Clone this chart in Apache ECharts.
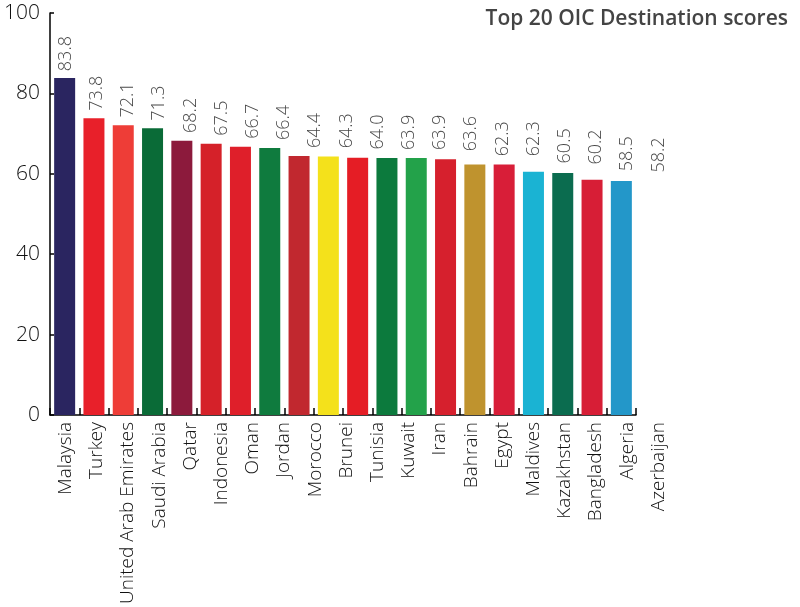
<!DOCTYPE html>
<html>
<head>
<meta charset="utf-8">
<script src="https://cdn.jsdelivr.net/npm/echarts@6/dist/echarts.min.js"></script>
<style>html,body{margin:0;padding:0;background:#fff}#c{width:800px;height:607px}</style>
</head>
<body>
<div id="c"></div>
<script>
const categories = ["Malaysia","Turkey","United Arab Emirates","Saudi Arabia","Qatar","Indonesia","Oman","Jordan","Morocco","Brunei","Tunisia","Kuwait","Iran","Bahrain","Egypt","Maldives","Kazakhstan","Bangladesh","Algeria","Azerbaijan"];
const scores = [83.8,73.8,72.1,71.3,68.2,67.5,66.7,66.4,64.4,64.3,64.0,63.9,63.9,63.6,62.3,62.3,60.5,60.2,58.5,58.2];
const barColors = ["#2a2560","#e8202a","#ee3d37","#0a6b37","#8c1a3c","#d52129","#df1f2a","#0f7b3e","#c1282f","#f4e11b","#e51d25","#0c7a3d","#23a24a","#d6202d","#bf932e","#d81e38","#1ab3d3","#0b6c4f","#d71e36","#2397c9"];
const yTicks = [0,20,40,60,80,100];

const font = "'Open Sans', sans-serif";
const chart = echarts.init(document.getElementById('c'), null, {renderer:'canvas'});
chart.setOption({
  animation:false,
  backgroundColor:'#fff',
  title:{text:'Top 20 OIC Destination scores', right:7, top:4,
    textStyle:{fontFamily:font, fontSize:21, fontWeight:600, color:'#444'}},
  grid:[
    {left:50, top:13, width:586, height:402},
    {left:50, top:13, width:624, height:402}
  ],
  xAxis:[
    {type:'category', gridIndex:0, data:categories,
      axisLine:{lineStyle:{color:'#000', width:1.5}},
      axisTick:{show:true, inside:true, length:7, interval:0, lineStyle:{color:'#000', width:1.5}},
      axisLabel:{show:false}},
    {type:'category', gridIndex:1, data:categories,
      axisLine:{show:false}, axisTick:{show:false},
      axisLabel:{show:true, interval:0, rotate:90, margin:13,
        fontFamily:font, fontSize:19, fontWeight:300, color:'#111'}}
  ],
  yAxis:[
    {type:'value', gridIndex:0, min:yTicks[0], max:yTicks[yTicks.length-1], interval:20,
      axisLine:{show:true, lineStyle:{color:'#000', width:1.5}},
      axisTick:{show:true, inside:true, length:4, lineStyle:{color:'#000', width:1.5}},
      splitLine:{show:false},
      axisLabel:{margin:10, fontFamily:font, fontSize:21, fontWeight:300, color:'#111'}},
    {type:'value', gridIndex:1, min:yTicks[0], max:yTicks[yTicks.length-1], interval:20,
      show:false}
  ],
  series:[
    {type:'bar', xAxisIndex:0, yAxisIndex:0, barWidth:21,
      data:scores.map((v,i)=>({value:v, itemStyle:{color:barColors[i]}}))},
    {type:'scatter', xAxisIndex:1, yAxisIndex:1, symbolSize:0,
      data:scores,
      label:{show:true, position:'top', distance:6, rotate:90, align:'left', verticalAlign:'middle',
        formatter:p=>p.value.toFixed(1),
        fontFamily:font, fontSize:18, fontWeight:300, color:'#111'}}
  ]
});
</script>
</body>
</html>
